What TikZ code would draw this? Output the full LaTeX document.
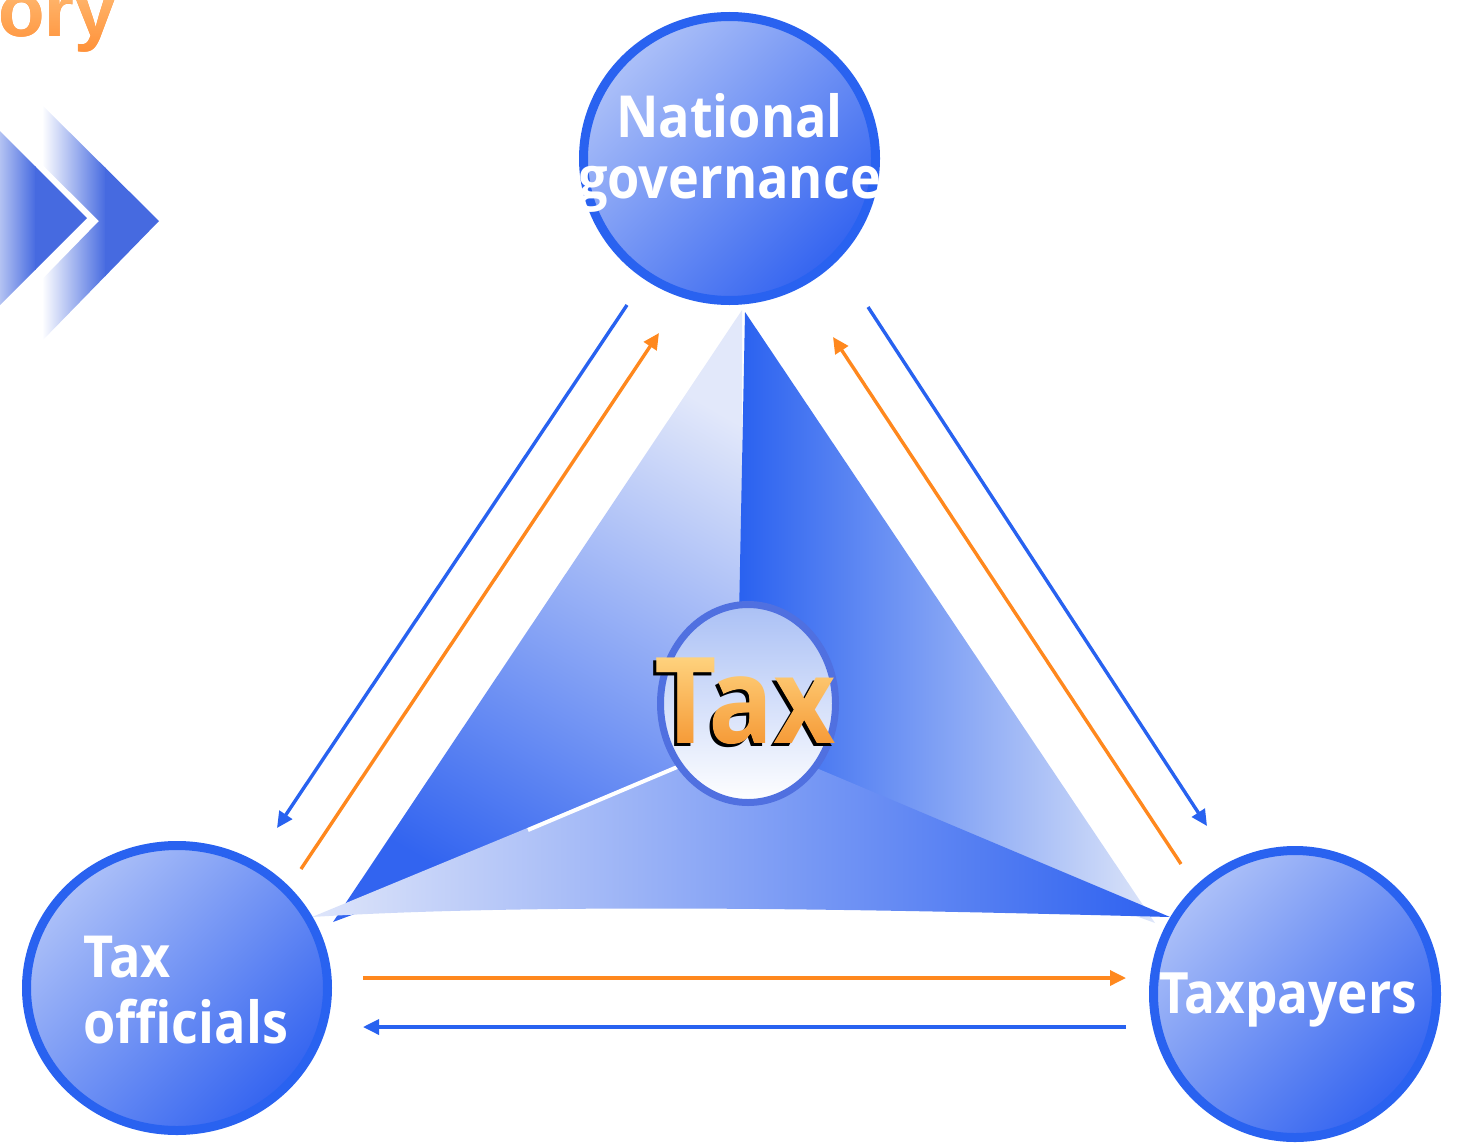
\documentclass[tikz,border=0pt]{standalone}
\usepackage{fontspec}
\usetikzlibrary{arrows.meta,fadings,calc,shapes.geometric}
\newfontfamily\lblfont{Open Sans}[FakeStretch=0.9]
\newfontfamily\arialfont{Liberation Sans}
\definecolor{ringblue}{RGB}{41,98,240}
\definecolor{circlight}{RGB}{172,192,248}
\definecolor{circdark}{RGB}{52,100,240}
\definecolor{arrblue}{RGB}{40,98,240}
\definecolor{arrorange}{RGB}{255,136,30}
\definecolor{chevblue}{RGB}{70,106,224}
\definecolor{lfaceA}{RGB}{226,232,250}
\definecolor{lfaceB}{RGB}{50,100,240}
\definecolor{rfaceA}{RGB}{40,96,240}
\definecolor{rfaceB}{RGB}{222,230,249}
\definecolor{bfaceA}{RGB}{222,229,250}
\definecolor{bfaceB}{RGB}{44,96,240}
\definecolor{taxring}{RGB}{80,112,224}
\definecolor{taxtop}{RGB}{170,192,245}
\definecolor{taxmid}{RGB}{222,230,251}
\definecolor{taxorA}{RGB}{255,214,130}
\definecolor{taxorB}{RGB}{245,150,50}
\definecolor{toryA}{RGB}{255,190,120}
\definecolor{toryB}{RGB}{255,140,50}
\begin{tikzfadingfrompicture}[name=taxfade]
\node[text=transparent!0, inner sep=0pt, font=\lblfont\bfseries\fontsize{60}{60}\selectfont] {Tax};
\end{tikzfadingfrompicture}
\begin{tikzfadingfrompicture}[name=toryfade]
\node[text=transparent!0, inner sep=0pt, font=\arialfont\bfseries\fontsize{38}{38}\selectfont] {tory};
\end{tikzfadingfrompicture}
\begin{document}
\begin{tikzpicture}[x=0.5pt,y=-0.5pt,
  circnode/.style={ellipse, draw=ringblue, line width=4.5pt, top color=circlight, bottom color=circdark, shading angle=45, inner sep=0pt},
  lbl/.style={text=white, inner sep=0pt},
  barrow/.style={draw=arrblue, line width=1.7pt, -{Triangle[length=8pt,width=7.5pt]}},
  oarrow/.style={draw=arrorange, line width=1.7pt, -{Triangle[length=8pt,width=7.5pt]}}]
\useasboundingbox (0,0) rectangle (1460,1145);
\clip (0,0) rectangle (1460,1145);

% title fragment
\node[anchor=base east, inner sep=0pt, text=toryB, font=\arialfont\bfseries\fontsize{38}{38}\selectfont] (tory) at (117,37) {tory};
\shade[path fading=toryfade, fit fading=false, fading transform={shift={(tory.center)}}, top color=toryA, bottom color=toryB] ($(tory.center)+(-90,-40)$) rectangle ($(tory.center)+(90,40)$);

% chevrons
\begin{scope}
\clip (-20,103) -- (40,103) -- (159,221) -- (40,343) -- (-20,343) -- (99,221) -- cycle;
\shade[left color=white, right color=chevblue] (42,90) rectangle (106,360);
\fill[chevblue] (105,90) rectangle (165,360);
\end{scope}
\begin{scope}
\clip (-150,88) -- (-43,88) -- (87,218) -- (-43,348) -- (-150,348) -- (-20,218) -- cycle;
\shade[left color=white, right color=chevblue] (-25,80) rectangle (36,360);
\fill[chevblue] (35,80) rectangle (95,360);
\end{scope}

% pyramid
\shade[top color=lfaceA, bottom color=lfaceB, shading angle=-30] (742,310) -- (742,770) -- (333,922) -- cycle;
\shade[left color=rfaceA, right color=rfaceB] (745,312) -- (1155,923) -- (736,770) -- cycle;
\shade[left color=bfaceA, right color=bfaceB] (312,917) -- (745,738) -- (1170,917) .. controls (900,910) and (550,902) .. (312,917) -- cycle;
\draw[white, line width=2pt] (528,830) -- (682,765);

% centre
\node[ellipse, draw=taxring, line width=3.5pt, top color=taxtop, middle color=taxmid, bottom color=white, minimum width=87.5pt, minimum height=99pt, inner sep=0pt] (taxc) at (748,703.5) {};
\node[anchor=base, inner sep=0pt, text=black, font=\lblfont\bfseries\fontsize{60}{60}\selectfont] (taxlbl) at (742,746) {Tax};
\shade[path fading=taxfade, fit fading=false, fading transform={shift={($(taxlbl.center)+(3,-3)$)}}, top color=taxorA, bottom color=taxorB] ($(taxlbl.center)+(3,-3)+(-110,-50)$) rectangle ($(taxlbl.center)+(3,-3)+(110,50)$);

% circles
\node[circnode, minimum width=146pt, minimum height=142pt] (ng) at (729.5,158.5) {};
\node[circnode, minimum width=150.5pt, minimum height=142.5pt] (to) at (177,988) {};
\node[circnode, minimum width=141.5pt, minimum height=143.5pt] (tp) at (1295,994) {};

\node[lbl, align=center, font=\lblfont\bfseries\fontsize{29}{26.5}\selectfont] (ngt) at (729.5,153) {National\\[4pt]governance};
\node[lbl, align=left, anchor=west, font=\lblfont\bfseries\fontsize{29}{32}\selectfont] (tot) at (83,990) {Tax\\[1pt]officials};
\node[lbl, anchor=base, font=\lblfont\bfseries\fontsize{28.5}{28.5}\selectfont] (tpt) at (1288,1013) {Taxpayers};

% connectors
\coordinate (b1s) at (627,305);  \coordinate (b1e) at (277,828);
\coordinate (o1s) at (301,869);  \coordinate (o1e) at (659,333);
\coordinate (o2s) at (1181,864); \coordinate (o2e) at (833,337);
\coordinate (b2s) at (868,307);  \coordinate (b2e) at (1207,826);
\coordinate (o3s) at (363,978);  \coordinate (o3e) at (1126,978);
\coordinate (b3s) at (1126,1027); \coordinate (b3e) at (363,1027);
\draw[barrow] (b1s) -- (b1e);
\draw[oarrow] (o1s) -- (o1e);
\draw[oarrow] (o2s) -- (o2e);
\draw[barrow] (b2s) -- (b2e);
\draw[oarrow] (o3s) -- (o3e);
\draw[barrow] (b3s) -- (b3e);
\end{tikzpicture}
\end{document}
